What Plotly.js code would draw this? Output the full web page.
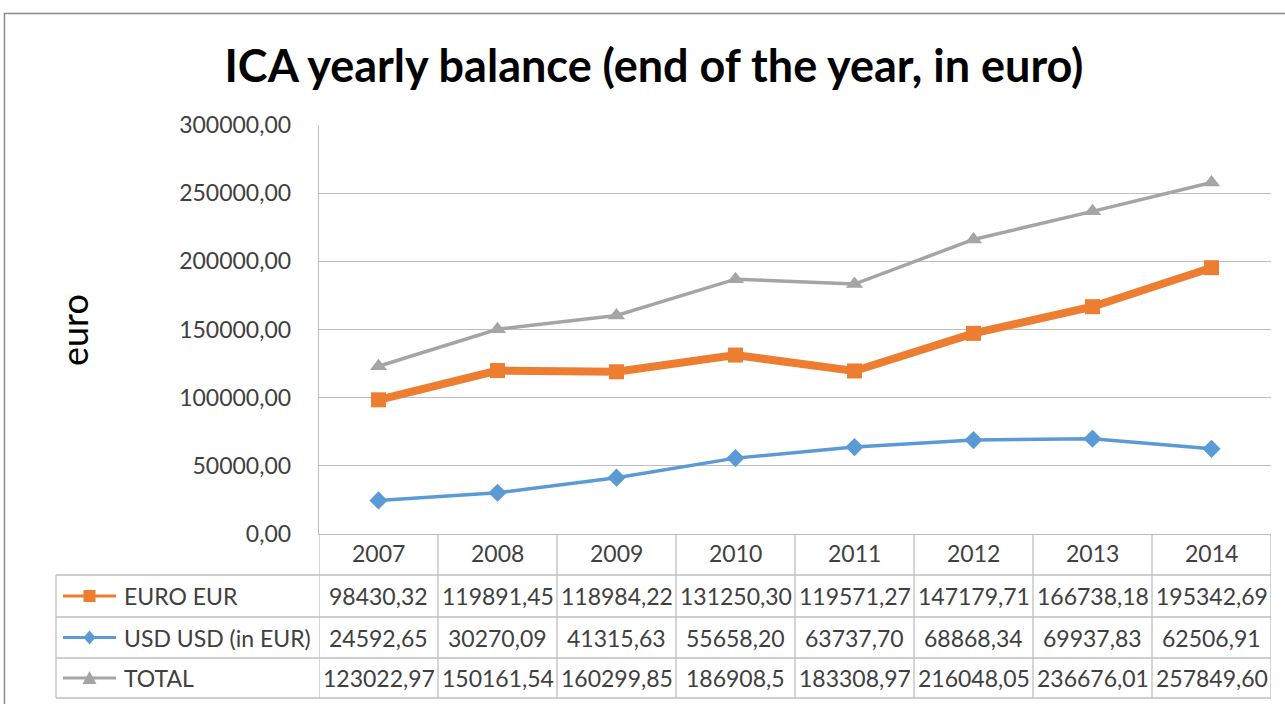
<!DOCTYPE html>
<html>
<head>
<meta charset="utf-8">
<script src="https://cdn.plot.ly/plotly-3.0.1.min.js"></script>
<style>html,body{margin:0;padding:0;background:#fff;}#chart{width:1285px;height:704px;}</style>
</head>
<body>
<div id="chart"></div>
<script>
// ---- data ----
const years = ["2007", "2008", "2009", "2010", "2011", "2012", "2013", "2014"];
const seriesNames = ["EURO EUR", "USD USD (in EUR)", "TOTAL"];
const euroText  = ["98430,32", "119891,45", "118984,22", "131250,30", "119571,27", "147179,71", "166738,18", "195342,69"];
const usdText   = ["24592,65", "30270,09", "41315,63", "55658,20", "63737,70", "68868,34", "69937,83", "62506,91"];
const totalText = ["123022,97", "150161,54", "160299,85", "186908,5", "183308,97", "216048,05", "236676,01", "257849,60"];
const yTickVals = [0, 50000, 100000, 150000, 200000, 250000, 300000];
const yTickText = ["0,00", "50000,00", "100000,00", "150000,00", "200000,00", "250000,00", "300000,00"];

const toNum = s => parseFloat(s.replace(',', '.'));
const euro = euroText.map(toNum);
const usd = usdText.map(toNum);
const total = totalText.map(toNum);

// ---- styling ----
const W = 1285, H = 704;
const px = x => x / W;
const py = y => 1 - y / H;
const font = 'Lato, "Open Sans", sans-serif';
const textCol = '#404040';
const gridCol = '#BFBFBF';
const colors = ['#ED7D31', '#5B9BD5', '#A5A5A5'];

const traces = [
  {x: years, y: total, type: 'scatter', mode: 'lines+markers', name: seriesNames[2],
   line: {color: colors[2], width: 3.5}, marker: {symbol: 'triangle-up', size: 15, color: colors[2]}},
  {x: years, y: usd, type: 'scatter', mode: 'lines+markers', name: seriesNames[1],
   line: {color: colors[1], width: 3.5}, marker: {symbol: 'diamond', size: 14, color: colors[1]}},
  {x: years, y: euro, type: 'scatter', mode: 'lines+markers', name: seriesNames[0],
   line: {color: colors[0], width: 8}, marker: {symbol: 'square', size: 15, color: colors[0]}}
];

// table geometry (pixels)
const headerY = 553;
const rowLines = [575, 617, 658, 698];
const rowCenters = [596, 637.5, 678];
const tableLeft = 56;
const tableRight = 1271;

const shapes = [];
// outer chart border
shapes.push({type: 'rect', xref: 'paper', yref: 'paper', x0: px(4.5), x1: px(1300), y0: py(720), y1: py(13.5),
  line: {color: '#8C8C8C', width: 1.5}, fillcolor: 'rgba(0,0,0,0)', layer: 'below'});
// table horizontal lines
rowLines.forEach(y => shapes.push({type: 'line', xref: 'paper', yref: 'paper', x0: px(tableLeft), x1: px(tableRight), y0: py(y), y1: py(y), line: {color: gridCol, width: 1.3}}));
// left border of name column
shapes.push({type: 'line', xref: 'paper', yref: 'paper', x0: px(tableLeft), x1: px(tableLeft), y0: py(rowLines[0]), y1: py(rowLines[3]), line: {color: gridCol, width: 1.3}});
// vertical category boundaries
for (let k = 0; k <= years.length; k++) {
  shapes.push({type: 'line', xref: 'x', yref: 'paper', x0: k - 0.5, x1: k - 0.5, y0: py(534), y1: py(rowLines[3]), line: {color: gridCol, width: 1.3}});
}
// legend keys in table
const keyX0 = 63, keyX1 = 116, keyC = 89.5, ms = 6;
rowCenters.forEach((cy, i) => {
  shapes.push({type: 'line', xref: 'paper', yref: 'paper', x0: px(keyX0), x1: px(keyX1), y0: py(cy), y1: py(cy), line: {color: colors[i], width: 3}});
  let path;
  if (i === 0) {
    path = `M${px(keyC - ms)},${py(cy - ms)} L${px(keyC + ms)},${py(cy - ms)} L${px(keyC + ms)},${py(cy + ms)} L${px(keyC - ms)},${py(cy + ms)} Z`;
  } else if (i === 1) {
    path = `M${px(keyC)},${py(cy - 7)} L${px(keyC + 6)},${py(cy)} L${px(keyC)},${py(cy + 7)} L${px(keyC - 6)},${py(cy)} Z`;
  } else {
    path = `M${px(keyC)},${py(cy - 7)} L${px(keyC + 7)},${py(cy + 6)} L${px(keyC - 7)},${py(cy + 6)} Z`;
  }
  shapes.push({type: 'path', xref: 'paper', yref: 'paper', path: path, fillcolor: colors[i], line: {color: colors[i], width: 0}});
});

const annotations = [];
const cellFont = {family: font, size: 23, color: textCol};
years.forEach((yr, j) => annotations.push({x: j, xref: 'x', y: py(headerY), yref: 'paper', text: yr, showarrow: false, font: cellFont, xanchor: 'center', yanchor: 'middle'}));
[euroText, usdText, totalText].forEach((arr, i) => {
  annotations.push({x: px(122), xref: 'paper', y: py(rowCenters[i]), yref: 'paper', text: seriesNames[i], showarrow: false, font: cellFont, xanchor: 'left', yanchor: 'middle'});
  arr.forEach((t, j) => annotations.push({x: j, xref: 'x', y: py(rowCenters[i]), yref: 'paper', text: t, showarrow: false, font: cellFont, xanchor: 'center', yanchor: 'middle'}));
});
// y axis title
annotations.push({x: px(74), xref: 'paper', y: py(330), yref: 'paper', text: 'euro', textangle: -90, showarrow: false,
  font: {family: font, size: 36, color: '#000'}, xanchor: 'center', yanchor: 'middle'});

const layout = {
  width: W, height: H,
  margin: {l: 0, r: 0, t: 0, b: 0},
  paper_bgcolor: '#fff', plot_bgcolor: '#fff',
  showlegend: false,
  title: {text: 'ICA yearly balance (end of the year, in euro)', x: px(654), xref: 'paper', xanchor: 'center',
    y: py(66), yref: 'paper', yanchor: 'middle', font: {family: font, size: 45, weight: 'bold', color: '#000'}},
  xaxis: {type: 'category', domain: [px(319), px(1271)], range: [-0.5, years.length - 0.5],
    showticklabels: false, showgrid: false, zeroline: false, showline: true, linecolor: gridCol, linewidth: 1.3, ticks: ''},
  yaxis: {domain: [py(534), py(125)], range: [0, 300000], tickvals: yTickVals, ticktext: yTickText,
    showgrid: true, gridcolor: gridCol, gridwidth: 1.3, zeroline: false, showline: true, linecolor: gridCol, linewidth: 1.3,
    ticks: '', ticklabelstandoff: 22, tickfont: {family: font, size: 23, color: textCol}},
  shapes: shapes,
  annotations: annotations
};

Plotly.newPlot('chart', traces, layout, {staticPlot: true, displayModeBar: false});
</script>
</body>
</html>
